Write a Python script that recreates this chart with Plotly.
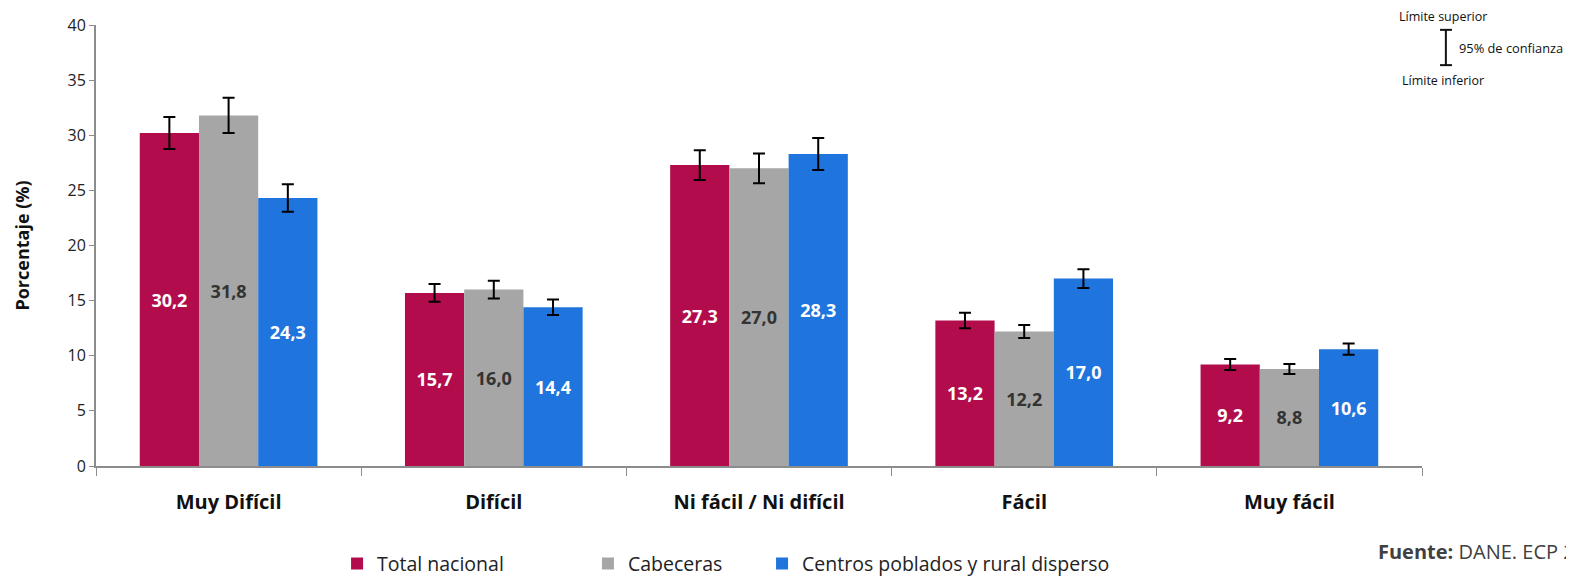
import plotly.graph_objects as go

# dane
categorias = ['Muy Difícil', 'Difícil', 'Ni fácil / Ni difícil', 'Fácil', 'Muy fácil']
total_nacional = [30.2, 15.7, 27.3, 13.2, 9.2]
cabeceras = [31.8, 16.0, 27.0, 12.2, 8.8]
centros_poblados = [24.3, 14.4, 28.3, 17.0, 10.6]

# intervalos de confianza (semiancho)
err_total = [1.45, 0.8, 1.35, 0.7, 0.5]
err_cabeceras = [1.6, 0.8, 1.35, 0.6, 0.45]
err_centros = [1.25, 0.7, 1.45, 0.85, 0.5]

FONT = 'Open Sans'


def fmt(v):
    return f'{v:.1f}'.replace('.', ',')


def barra(nombre, valores, errores, color, color_texto, leyenda):
    return go.Bar(
        name=nombre,
        x=categorias,
        y=valores,
        marker=dict(color=color, line=dict(width=0)),
        text=[fmt(v) for v in valores],
        textposition='inside',
        insidetextanchor='middle',
        textangle=0,
        textfont=dict(family=FONT, size=18, color=color_texto, weight='bold'),
        error_y=dict(type='data', array=errores, visible=True,
                     color='black', thickness=2, width=6),
        legend=leyenda,
        showlegend=True,
        hoverinfo='skip',
    )


fig = go.Figure(data=[
    barra('Total nacional', total_nacional, err_total, '#B30C4C', 'white', 'legend'),
    barra('Cabeceras', cabeceras, err_cabeceras, '#A6A6A6', '#333333', 'legend2'),
    barra('Centros poblados y rural disperso', centros_poblados, err_centros,
          '#1F74DD', 'white', 'legend3'),
])

leg = dict(orientation='h', yanchor='middle', y=-0.222, xanchor='left',
           font=dict(family=FONT, size=19.5, color='#222222'),
           bgcolor='rgba(0,0,0,0)', itemclick=False, visible=True)

# la página añade 8px de margen, se compensa en el tamaño
fig.update_layout(
    width=1566,
    height=571,
    margin=dict(l=88, r=152, t=17, b=113, autoexpand=False),
    plot_bgcolor='white',
    paper_bgcolor='white',
    font=dict(family=FONT, color='#222222'),
    barmode='group',
    bargap=0.33,
    bargroupgap=0,
    showlegend=True,
    uniformtext=dict(minsize=18, mode='show'),
    legend=dict(leg, x=0.1818),
    legend2=dict(leg, x=0.371),
    legend3=dict(leg, x=0.5023),
    xaxis=dict(
        automargin=False,
        showline=True, linecolor='#8C8C8C', linewidth=2,
        ticks='outside', tickson='boundaries', ticklen=8, tickcolor='#8C8C8C',
        tickfont=dict(family=FONT, size=20, color='#111111', weight='bold'),
        ticklabelstandoff=17,
    ),
    yaxis=dict(
        automargin=False,
        range=[0, 40], dtick=5,
        showgrid=False, zeroline=False,
        showline=True, linecolor='#8C8C8C', linewidth=2,
        ticks='outside', ticklen=5, tickcolor='#8C8C8C',
        tickfont=dict(family=FONT, size=16, color='#222222'),
        title=dict(text='Porcentaje (%)',
                   font=dict(family=FONT, size=18, color='#111111', weight='bold'),
                   standoff=33),
    ),
)

# nota del intervalo de confianza
nota = dict(xref='paper', yref='paper', showarrow=False, yanchor='middle',
            font=dict(family=FONT, size=12.5, color='#111111'))
fig.add_annotation(nota, text='Límite superior', x=1.0155, y=1.020, xanchor='center')
fig.add_annotation(nota, text='95% de confianza', x=1.0265, y=0.948, xanchor='left',
                   font=dict(family=FONT, size=12.8, color='#111111'))
fig.add_annotation(nota, text='Límite inferior', x=1.0155, y=0.875, xanchor='center')
linea = dict(type='line', xref='paper', yref='paper', line=dict(color='#111111', width=2))
fig.add_shape(linea, x0=1.018, x1=1.018, y0=0.909, y1=0.989)
fig.add_shape(linea, x0=1.0136, x1=1.0226, y0=0.989, y1=0.989)
fig.add_shape(linea, x0=1.0136, x1=1.0226, y0=0.909, y1=0.909)

# fuente
fig.add_annotation(
    xref='paper', yref='paper', x=0.965, y=-0.193, xanchor='left', yanchor='middle',
    showarrow=False, text='<b>Fuente:</b> DANE. ECP 2021',
    font=dict(family=FONT, size=20, color='#404040'),
)

fig.write_html('out.html')
